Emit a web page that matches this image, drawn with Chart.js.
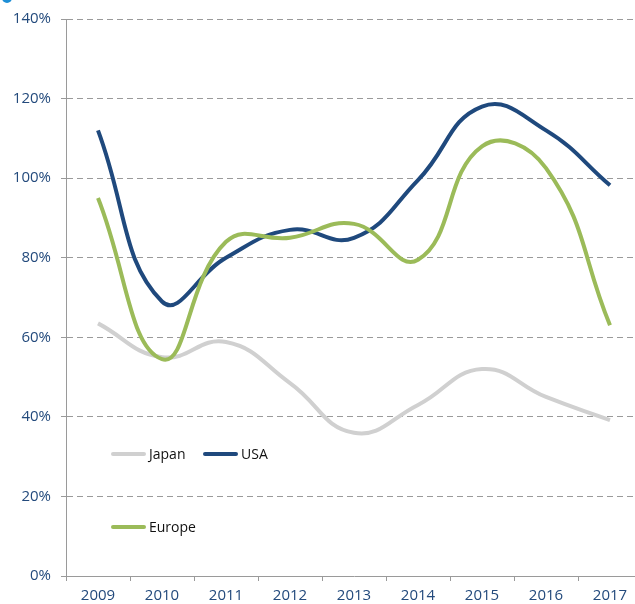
<!DOCTYPE html>
<html>
<head>
<meta charset="utf-8">
<script src="https://cdn.jsdelivr.net/npm/chart.js@4/dist/chart.umd.min.js"></script>
<style>
    body { margin: 0; overflow: hidden; background: #fff; font-family: "Open Sans", sans-serif; }
    #wrap { position: relative; width: 660px; height: 604px; }
    .dot { position: absolute; left: 2px; top: -7px; width: 10px; height: 10px; border-radius: 50%; background: #1e8fd6; }
    .leg { position: absolute; font-size: 14px; color: #111; line-height: 16px; }
    .leg span { display: inline-block; width: 35px; height: 4px; border-radius: 2px; vertical-align: middle; margin-right: 3px; margin-top: -2px; }
</style>
</head>
<body>
<div id="wrap">
    <canvas id="chart"></canvas>
    <div class="dot"></div>
    <div class="leg" style="left:111px; top:446px;"><span style="background:#d0d0d0"></span>Japan</div>
    <div class="leg" style="left:203px; top:446px;"><span style="background:#1f497d"></span>USA</div>
    <div class="leg" style="left:111px; top:519px;"><span style="background:#9bbb59"></span>Europe</div>
</div>
<script>
const years = ["2009", "2010", "2011", "2012", "2013", "2014", "2015", "2016", "2017"];
const japan = [63.5, 55, 58.8, 48.5, 36, 43, 52, 45, 39.2];
const usa = [112, 69, 80, 87, 85, 99.5, 118, 112, 98.2];
const europe = [95, 54.5, 84, 85, 88.5, 79.5, 108, 102.5, 63];
const yTicks = [0, 20, 40, 60, 80, 100, 120, 140];

const tickColor = "#234a7c";
const gridColor = "#9a9a9a";

function makeSet(label, values, color, order) {
    return {
        label: label,
        data: values,
        borderColor: color,
        backgroundColor: color,
        borderWidth: 4,
        pointRadius: 0,
        tension: 0.45,
        fill: false,
        order: order
    };
}

new Chart(document.getElementById("chart"), {
    type: "line",
    data: {
        labels: years,
        datasets: [
            makeSet("Japan", japan, "#d0d0d0", 3),
            makeSet("USA", usa, "#1f497d", 2),
            makeSet("Europe", europe, "#9bbb59", 1)
        ]
    },
    options: {
        responsive: true,
        maintainAspectRatio: false,
        animation: false,
        layout: { padding: { top: 19, right: 18, left: 0, bottom: 0 } },
        plugins: { legend: { display: false }, tooltip: { enabled: false } },
        scales: {
            x: {
                offset: true,
                grid: {
                    offset: true,
                    drawOnChartArea: false,
                    drawTicks: true,
                    tickLength: 5,
                    color: gridColor
                },
                border: { color: gridColor, width: 1 },
                ticks: {
                    color: tickColor,
                    font: { family: "Open Sans", size: 15 },
                    padding: 6,
                    maxRotation: 0
                },
                afterFit: s => { s.height = 28; }
            },
            y: {
                min: 0,
                max: 140,
                afterBuildTicks: s => { s.ticks = yTicks.map(v => ({ value: v })); },
                grid: {
                    color: gridColor,
                    lineWidth: 1,
                    tickLength: 5,
                    tickBorderDash: []
                },
                border: { color: gridColor, width: 1, dash: [6, 4] },
                ticks: {
                    color: tickColor,
                    font: { family: "Open Sans", size: 15 },
                    padding: 10,
                    callback: v => v + "%"
                },
                afterFit: s => { s.width = 66; }
            }
        }
    }
});
</script>
</body>
</html>
